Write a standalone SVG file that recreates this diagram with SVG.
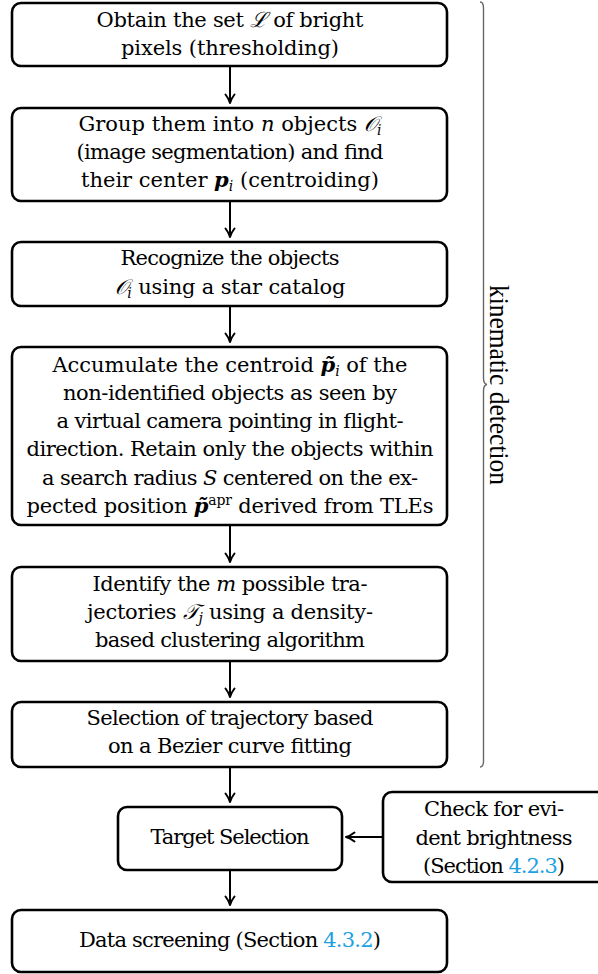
<svg xmlns="http://www.w3.org/2000/svg" width="598" height="974" viewBox="0 0 598 974">
<defs>
<marker id="ah" viewBox="0 0 12 12" refX="10" refY="6" markerWidth="12" markerHeight="12" markerUnits="userSpaceOnUse" orient="auto">
<path d="M1.5,1.5 Q6,5 10,6 Q6,7 1.5,10.5" fill="none" stroke="#000" stroke-width="2" stroke-linecap="round" stroke-linejoin="round"/>
</marker>
<style>
.box{fill:#fff;stroke:#000;stroke-width:2.6}
.t{font-family:"DejaVu Serif","Liberation Serif",serif;font-size:21px;fill:#000;text-anchor:middle}
.m{font-style:italic}
.b{font-weight:bold;font-style:italic}
.s{font-size:14px}
.lnk{fill:#1ba1e2}
.c{stroke:#000;stroke-width:2;fill:none}
.k{font-family:"Liberation Serif",serif;font-size:28px;fill:#000;text-anchor:middle}
</style>
</defs>
<rect width="598" height="974" fill="#fff"/>
<g id="n1">
<rect class="box" x="12" y="3" width="435" height="63" rx="9"/>
<text class="t" x="230" y="27" textLength="267" lengthAdjust="spacing">Obtain the set <tspan class="m">ℒ</tspan> of bright</text>
<text class="t" x="230" y="55" textLength="218" lengthAdjust="spacing">pixels (thresholding)</text>
</g>
<g id="n2">
<rect class="box" x="12" y="108" width="435" height="93" rx="9"/>
<text class="t" x="230" y="131" textLength="303" lengthAdjust="spacing">Group them into <tspan class="m">n</tspan> objects <tspan class="m">𝒪</tspan><tspan class="m s" dy="4">i</tspan></text>
<text class="t" x="230" y="159" textLength="307" lengthAdjust="spacing">(image segmentation) and find</text>
<text class="t" x="230" y="187" textLength="298" lengthAdjust="spacing">their center <tspan class="b">p</tspan><tspan class="m s" dy="4">i</tspan><tspan dy="-4"> (centroiding)</tspan></text>
</g>
<g id="n3">
<rect class="box" x="12" y="242" width="435" height="64" rx="9"/>
<text class="t" x="230" y="265" textLength="219" lengthAdjust="spacing">Recognize the objects</text>
<text class="t" x="230" y="294" textLength="231" lengthAdjust="spacing"><tspan class="m">𝒪</tspan><tspan class="m s" dy="4">i</tspan><tspan dy="-4"> using a star catalog</tspan></text>
</g>
<g id="n4">
<rect class="box" x="12" y="347" width="435" height="178" rx="9"/>
<text class="t" x="230" y="372" textLength="355" lengthAdjust="spacing">Accumulate the centroid <tspan class="b">p̃</tspan><tspan class="m s" dy="4">i</tspan><tspan dy="-4"> of the</tspan></text>
<text class="t" x="230" y="400" textLength="334" lengthAdjust="spacing">non-identified objects as seen by</text>
<text class="t" x="230" y="428" textLength="347" lengthAdjust="spacing">a virtual camera pointing in flight-</text>
<text class="t" x="230" y="456" textLength="407" lengthAdjust="spacing">direction. Retain only the objects within</text>
<text class="t" x="230" y="485" textLength="376" lengthAdjust="spacing">a search radius <tspan class="m">S</tspan> centered on the ex-</text>
<text class="t" x="230" y="513" textLength="407" lengthAdjust="spacing">pected position <tspan class="b">p̃</tspan><tspan class="s" dy="-8">apr</tspan><tspan dy="8"> derived from TLEs</tspan></text>
</g>
<g id="n5">
<rect class="box" x="12" y="567" width="435" height="94" rx="9"/>
<text class="t" x="230" y="591" textLength="275" lengthAdjust="spacing">Identify the <tspan class="m">m</tspan> possible tra-</text>
<text class="t" x="230" y="619" textLength="286" lengthAdjust="spacing">jectories <tspan class="m">𝒯</tspan><tspan class="m s" dy="4">j</tspan><tspan dy="-4"> using a density-</tspan></text>
<text class="t" x="230" y="647" textLength="270" lengthAdjust="spacing">based clustering algorithm</text>
</g>
<g id="n6">
<rect class="box" x="12" y="702" width="435" height="65" rx="9"/>
<text class="t" x="230" y="725" textLength="287" lengthAdjust="spacing">Selection of trajectory based</text>
<text class="t" x="230" y="753" textLength="244" lengthAdjust="spacing">on a Bezier curve fitting</text>
</g>
<g id="n7">
<rect class="box" x="118" y="807" width="224" height="63" rx="9"/>
<text class="t" x="230" y="844" textLength="159" lengthAdjust="spacing">Target Selection</text>
</g>
<g id="n8">
<rect class="box" x="383" y="792" width="224" height="90" rx="9"/>
<text class="t" x="494" y="816" textLength="140" lengthAdjust="spacing">Check for evi-</text>
<text class="t" x="494" y="845" textLength="157" lengthAdjust="spacing">dent brightness</text>
<text class="t" x="494" y="873" textLength="142" lengthAdjust="spacing">(Section <tspan class="lnk">4.2.3</tspan>)</text>
</g>
<g id="n9">
<rect class="box" x="12" y="910" width="435" height="62" rx="9"/>
<text class="t" x="230" y="947" textLength="302" lengthAdjust="spacing">Data screening (Section <tspan class="lnk">4.3.2</tspan>)</text>
</g>
<g id="brace">
<path d="M480,2 Q483.5,2 483.5,8 L483.5,378 Q483.5,384 487,384.5 Q483.5,385 483.5,391 L483.5,761 Q483.5,767 480,767" fill="none" stroke="#666" stroke-width="1.4"/>
<text class="k" transform="translate(490,385) rotate(90)" x="0" y="0" textLength="200" lengthAdjust="spacingAndGlyphs">kinematic detection</text>
</g>
<g id="connectors">
<line class="c" x1="230" y1="66" x2="230" y2="103" marker-end="url(#ah)"/>
<line class="c" x1="230" y1="201" x2="230" y2="237" marker-end="url(#ah)"/>
<line class="c" x1="230" y1="306" x2="230" y2="342" marker-end="url(#ah)"/>
<line class="c" x1="230" y1="525" x2="230" y2="562" marker-end="url(#ah)"/>
<line class="c" x1="230" y1="661" x2="230" y2="697" marker-end="url(#ah)"/>
<line class="c" x1="230" y1="767" x2="230" y2="802" marker-end="url(#ah)"/>
<line class="c" x1="230" y1="870" x2="230" y2="905" marker-end="url(#ah)"/>
<line class="c" x1="383" y1="837" x2="346" y2="837" marker-end="url(#ah)"/>
</g>
</svg>
